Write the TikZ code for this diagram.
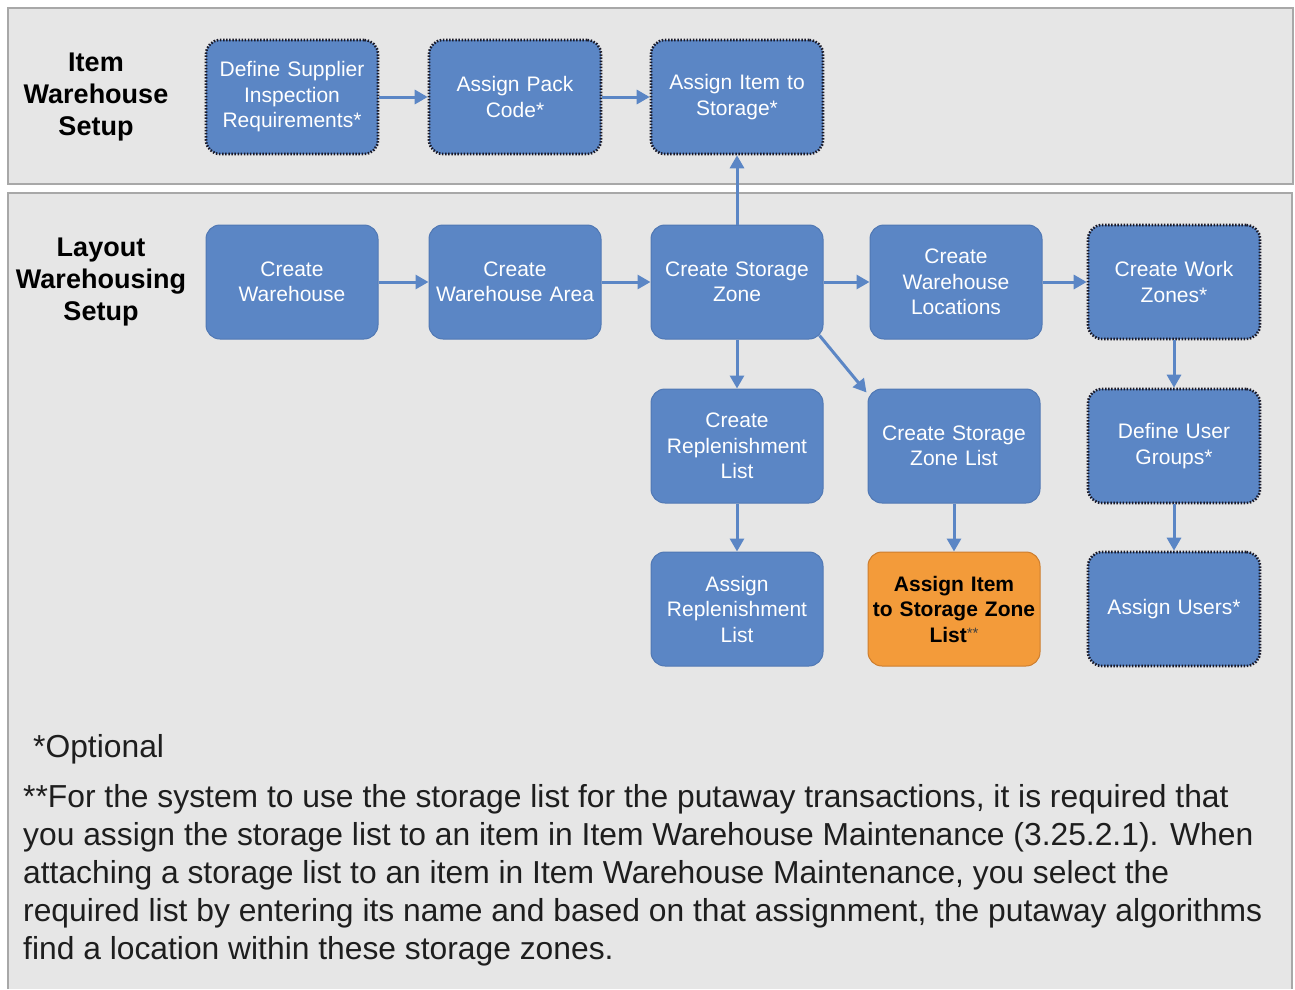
\documentclass[tikz,border=0pt]{standalone}
\usepackage{fontspec}
\setmainfont{Liberation Sans}
\usetikzlibrary{arrows.meta}

\definecolor{boxblue}{RGB}{91,134,197}
\definecolor{boxedge}{RGB}{80,120,180}
\definecolor{boxorange}{RGB}{243,155,58}
\definecolor{orangeedge}{RGB}{205,125,45}
\definecolor{panelfill}{RGB}{230,230,230}
\definecolor{paneledge}{RGB}{168,168,168}
\definecolor{dotedge}{RGB}{25,25,40}
\definecolor{notetext}{RGB}{30,30,30}

\begin{document}
\begin{tikzpicture}[x=1pt,y=-1pt,
  stepbox/.style={draw=boxedge, line width=1pt, fill=boxblue, rounded corners=14pt,
    minimum width=172pt, minimum height=114pt, text width=166pt, align=center,
    text=white, inner sep=0pt, font=\fontsize{21}{25.5}\selectfont},
  optbox/.style={stepbox, draw=dotedge, line width=2.6pt, dash pattern=on 1.5pt off 1.6pt},
  keybox/.style={stepbox, fill=boxorange, draw=orangeedge, text=black,
    font=\bfseries\fontsize{21}{25.5}\selectfont},
  rowlabel/.style={align=center, inner sep=0pt, text=black,
    font=\bfseries\fontsize{27}{32}\selectfont},
  noteline/.style={anchor=base west, inner sep=0pt, text=notetext,
    font=\fontsize{31.8}{38}\selectfont},
  flow/.style={draw=boxblue, line width=3pt, -{Triangle[length=13pt,width=14pt]}}
]
\useasboundingbox (0,0) rectangle (1295,989);
\fill[white] (0,0) rectangle (1295,989);

% panels
\draw[fill=panelfill, draw=paneledge, line width=2pt] (7.5,7.5) rectangle (1293,184);
\fill[panelfill] (7.5,193) rectangle (1291.5,989);
\draw[paneledge, line width=2pt] (7.5,989) -- (7.5,193) -- (1291.5,193) -- (1291.5,989);

% row labels
\node[rowlabel] (lblitem) at (96,97) {Item\\Warehouse\\Setup};
\node[rowlabel] (lbllayout) at (101,282) {Layout\\Warehousing\\Setup};

% item warehouse setup row
\node[optbox] (dsi) at (292,97) {Define Supplier\\Inspection\\Requirements*};
\node[optbox] (apc) at (515,97) {Assign Pack\\Code*};
\node[optbox] (ais) at (737,97) {Assign Item to\\Storage*};

% layout warehousing setup
\node[stepbox] (cw)  at (292,282) {Create\\Warehouse};
\node[stepbox] (cwa) at (515,282) {Create\\Warehouse Area};
\node[stepbox] (csz) at (737,282) {Create Storage\\Zone};
\node[stepbox] (cwl) at (956,282) {Create\\Warehouse\\Locations};
\node[optbox]  (cwz) at (1174,282) {Create Work\\Zones*};

\node[stepbox] (crl) at (737,446) {Create\\Replenishment\\List};
\node[stepbox] (szl) at (954,446) {Create Storage\\Zone List};
\node[optbox]  (dug) at (1174,446) {Define User\\Groups*};

\node[stepbox] (arl) at (737,609) {Assign\\Replenishment\\List};
\node[keybox]  (aiz) at (954,609) {Assign Item\\to Storage Zone\\List{\mdseries\color{black!75}\fontsize{15}{15}\selectfont\raisebox{4pt}{**}}};
\node[optbox]  (au)  at (1174,609) {Assign Users*};

% connectors
\draw[flow] (dsi) -- (apc);
\draw[flow] (apc) -- (ais);
\draw[flow] (csz) -- (ais);
\draw[flow] (cw) -- (cwa);
\draw[flow] (cwa) -- (csz);
\draw[flow] (csz) -- (cwl);
\draw[flow] (cwl) -- (cwz);
\draw[flow] (csz) -- (crl);
\draw[flow] ([xshift=-4pt,yshift=4pt]csz.south east) -- ([xshift=-1pt,yshift=-4pt]szl.north west);
\draw[flow] (crl) -- (arl);
\draw[flow] (szl) -- (aiz);
\draw[flow] (cwz) -- (dug);
\draw[flow] (dug) -- (au);

% notes
\node[noteline] (optnote) at (33,757) {*Optional};
\node[noteline] (note1) at (23,807) {**For the system to use the storage list for the putaway transactions, it is required that};
\node[noteline] (note2) at (23,845) {you assign the storage list to an item in Item Warehouse Maintenance (3.25.2.1). When};
\node[noteline] (note3) at (23,883) {attaching a storage list to an item in Item Warehouse Maintenance, you select the};
\node[noteline] (note4) at (23,921) {required list by entering its name and based on that assignment, the putaway algorithms};
\node[noteline] (note5) at (23,959) {find a location within these storage zones.};
\end{tikzpicture}
\end{document}
